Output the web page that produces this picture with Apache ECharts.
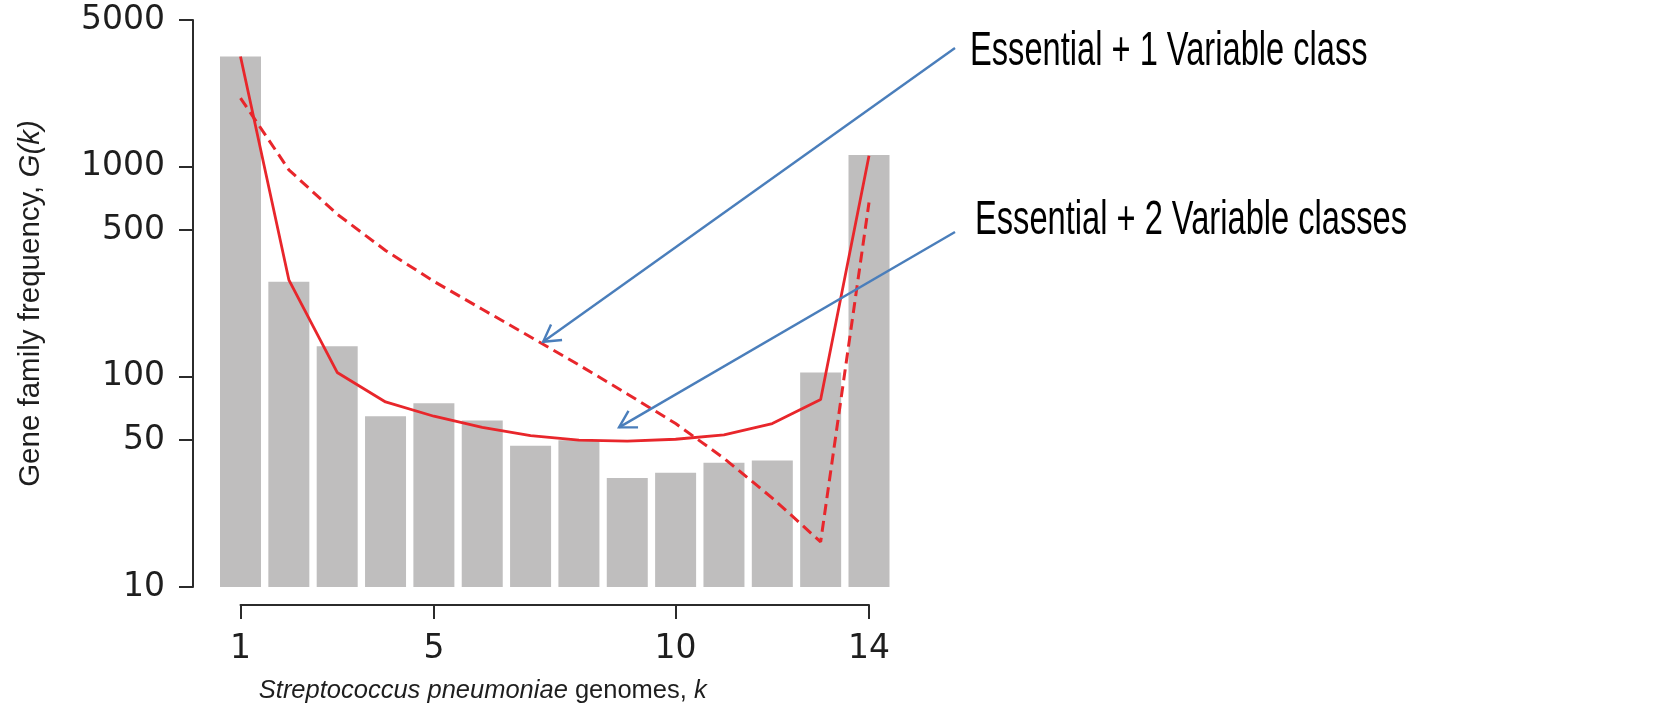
<!DOCTYPE html>
<html>
<head>
<meta charset="utf-8">
<script src="https://cdn.jsdelivr.net/npm/echarts@6/dist/echarts.min.js"></script>
<style>
  html, body { margin: 0; padding: 0; background: #ffffff; }
  #chart { width: 1656px; height: 713px; }
</style>
</head>
<body>
<div id="chart"></div>
<script>
// Number of genomes a gene family occurs in
const genomes = [1, 2, 3, 4, 5, 6, 7, 8, 9, 10, 11, 12, 13, 14];
// Observed gene family frequency G(k)
const familyCounts = [3350, 284, 140, 65, 75, 62, 47, 50, 33, 35, 39, 40, 105, 1140];
// Model fit: essential genes plus two variable classes (solid)
const fitTwoClasses = [3350, 290, 105, 76, 65, 57.5, 52.5, 50, 49.5, 50.5, 53, 60, 78, 1128];
// Model fit: essential genes plus one variable class (dashed)
const fitOneClass = [2125, 968, 595, 400, 285, 210, 155, 114, 83, 60, 41, 26.5, 16.4, 676];
// Axis tick values
const yTicks = [10, 50, 100, 500, 1000, 5000];
const xTicks = [1, 5, 10, 14];
// Callout texts and the point on each curve they refer to
const calloutTexts = ['Essential + 1 Variable class', 'Essential + 2 Variable classes'];
const calloutTargets = [[7.26, 147], [8.83, 57.5]];

const RED = '#e8262b';
const BLUE = '#4a7ebb';
const AXIS = '#2b2b2b';
const TICK_FONT = '"DejaVu Sans", sans-serif';
const TITLE_FONT = '"Liberation Sans", Arial, sans-serif';

const chart = echarts.init(document.getElementById('chart'), null, { renderer: 'canvas' });

const pairs = (vals) => genomes.map((k, i) => [k, vals[i]]);

chart.setOption({
  animation: false,
  backgroundColor: '#ffffff',
  grid: { left: 240.5, right: 787, top: 20, bottom: 126, containLabel: false },
  xAxis: {
    type: 'value',
    min: 1,
    max: 14,
    offset: 18,
    splitLine: { show: false },
    axisLine: { show: true, lineStyle: { color: AXIS, width: 2 } },
    axisTick: { show: true, length: 14, lineStyle: { color: AXIS, width: 2 }, customValues: xTicks },
    axisLabel: {
      show: true, margin: 28, fontSize: 33, fontFamily: TICK_FONT, color: '#1e1e1e',
      customValues: xTicks, formatter: (v) => String(Math.round(v))
    },
    name: '{i|Streptococcus pneumoniae} genomes, {i|k}',
    nameLocation: 'middle',
    nameGap: 73,
    nameTextStyle: {
      fontSize: 25.5, fontFamily: TITLE_FONT, color: '#1e1e1e',
      padding: [0, 144, 0, 0],
      rich: { i: { fontStyle: 'italic', fontSize: 25.5, fontFamily: TITLE_FONT, color: '#1e1e1e' } }
    }
  },
  yAxis: {
    type: 'log',
    logBase: 10,
    min: 10,
    max: 5000,
    startValue: 10,
    offset: 47.5,
    splitLine: { show: false },
    minorTick: { show: false },
    axisLine: { show: true, lineStyle: { color: AXIS, width: 2 } },
    axisTick: { show: true, length: 14, lineStyle: { color: AXIS, width: 2 }, customValues: yTicks },
    axisLabel: {
      show: true, margin: 28, fontSize: 33, fontFamily: TICK_FONT, color: '#1e1e1e',
      customValues: yTicks, formatter: (v) => String(Math.round(v))
    },
    name: 'Gene family frequency, {i|G(k)}',
    nameLocation: 'middle',
    nameGap: 147,
    nameTextStyle: {
      fontSize: 29.5, fontFamily: TITLE_FONT, color: '#1e1e1e',
      rich: { i: { fontStyle: 'italic', fontSize: 29.5, fontFamily: TITLE_FONT, color: '#1e1e1e' } }
    }
  },
  series: [
    {
      name: 'G(k)',
      type: 'bar',
      data: pairs(familyCounts),
      barWidth: 41,
      clip: false,
      itemStyle: { color: '#bfbebe' },
      z: 1
    },
    {
      name: 'Essential + 1 Variable class',
      type: 'line',
      data: pairs(fitOneClass),
      showSymbol: false,
      symbol: 'none',
      clip: false,
      lineStyle: { color: RED, width: 3, type: [11, 6] },
      z: 3
    },
    {
      name: 'Essential + 2 Variable classes',
      type: 'line',
      data: pairs(fitTwoClasses),
      showSymbol: false,
      symbol: 'none',
      clip: false,
      lineStyle: { color: RED, width: 2.8 },
      z: 4
    }
  ]
});

// Callouts: condensed text at the right with an open-headed arrow to its curve
const calloutAnchors = [{ x: 970, y: 52, tail: [955, 48] }, { x: 975, y: 221, tail: [955, 232] }];
const graphics = [];
calloutTexts.forEach((text, i) => {
  const a = calloutAnchors[i];
  const tip = chart.convertToPixel({ gridIndex: 0 }, calloutTargets[i]);
  const tail = a.tail;
  const ang = Math.atan2(tail[1] - tip[1], tail[0] - tip[0]);
  const headLen = 19, spread = Math.PI / 6;
  const b1 = [tip[0] + headLen * Math.cos(ang - spread), tip[1] + headLen * Math.sin(ang - spread)];
  const b2 = [tip[0] + headLen * Math.cos(ang + spread), tip[1] + headLen * Math.sin(ang + spread)];
  graphics.push({
    type: 'line', z: 10,
    shape: { x1: tail[0], y1: tail[1], x2: tip[0], y2: tip[1] },
    style: { stroke: BLUE, lineWidth: 2.4 }
  });
  graphics.push({
    type: 'polyline', z: 10,
    shape: { points: [b1, tip, b2] },
    style: { stroke: BLUE, lineWidth: 2.4, fill: null }
  });
  graphics.push({
    type: 'text', z: 10,
    x: a.x, y: a.y, scaleX: 0.68,
    style: {
      text: text, x: 0, y: 0,
      font: '48px ' + TITLE_FONT,
      fill: '#000000',
      align: 'left', verticalAlign: 'middle'
    }
  });
});
chart.setOption({ graphic: graphics });
</script>
</body>
</html>
